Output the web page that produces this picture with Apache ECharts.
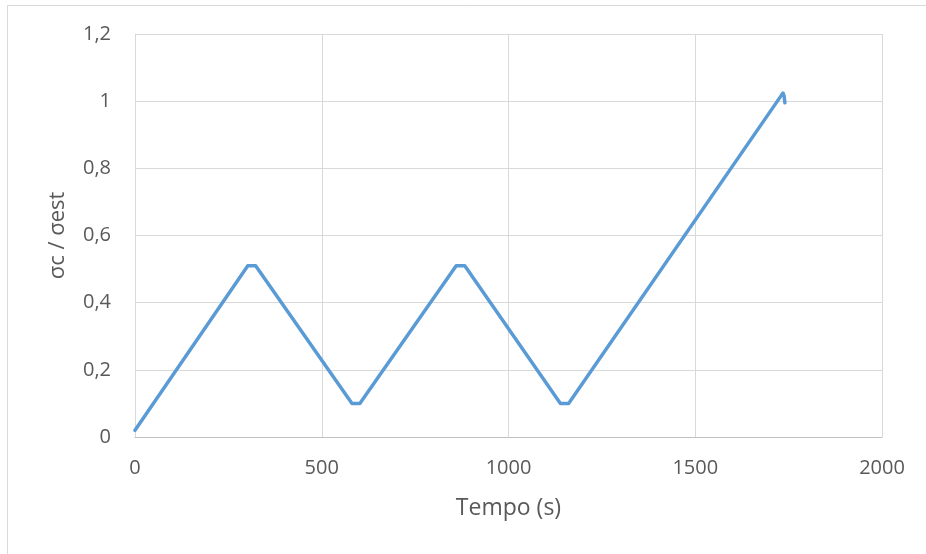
<!DOCTYPE html>
<html><head><meta charset="utf-8">
<script src="https://cdn.jsdelivr.net/npm/echarts@6/dist/echarts.min.js"></script>
<style>html,body{margin:0;padding:0;background:#fff}#c{width:926px;height:554px}</style>
</head><body><div id="c"></div>
<script>
const times = [0, 302, 323, 581, 602, 860, 883, 1139, 1161, 1731, 1735, 1738, 1740];
const ratios = [0.02, 0.51, 0.51, 0.10, 0.10, 0.51, 0.51, 0.10, 0.10, 1.018, 1.024, 1.015, 0.995];
const xTitle = 'Tempo (s)';
const yTitle = 'σc / σest';

const chart = echarts.init(document.getElementById('c'));
const font = '"Open Sans", "Liberation Sans", sans-serif';
const fmtY = v => String(Math.round(v * 10) / 10).replace('.', ',');
const fmtX = v => String(v);
chart.setOption({
  animation: false,
  backgroundColor: '#fff',
  graphic: [{type: 'rect', shape: {x: 7.5, y: 5.5, width: 960, height: 600}, style: {fill: 'none', stroke: '#d9d9d9', lineWidth: 1}, silent: true}],
  grid: {left: 135, right: 44, top: 34, bottom: 117},
  xAxis: {
    type: 'value', min: 0, max: 2000, interval: 500,
    name: xTitle, nameLocation: 'middle', nameGap: 60,
    nameTextStyle: {fontFamily: font, fontSize: 23, color: '#595959'},
    axisLine: {show: true, lineStyle: {color: '#bfbfbf', width: 1}},
    axisTick: {show: false},
    axisLabel: {fontFamily: font, fontSize: 20, color: '#595959', margin: 21, formatter: fmtX},
    splitLine: {show: true, lineStyle: {color: '#d9d9d9', width: 1}}
  },
  yAxis: {
    type: 'value', min: 0, max: 1.2, interval: 0.2,
    name: yTitle, nameLocation: 'middle', nameGap: 66,
    nameTextStyle: {fontFamily: font, fontSize: 22, color: '#595959'},
    axisLine: {show: true, lineStyle: {color: '#d9d9d9', width: 1}},
    axisTick: {show: false},
    axisLabel: {fontFamily: font, fontSize: 20, color: '#595959', margin: 24, formatter: fmtY},
    splitLine: {show: true, lineStyle: {color: '#d9d9d9', width: 1}}
  },
  series: [{
    type: 'line',
    data: times.map((t, i) => [t, ratios[i]]),
    showSymbol: false,
    lineStyle: {color: '#5b9bd5', width: 3.5, join: 'round', cap: 'round'},
    smooth: false
  }]
});
</script></body></html>
